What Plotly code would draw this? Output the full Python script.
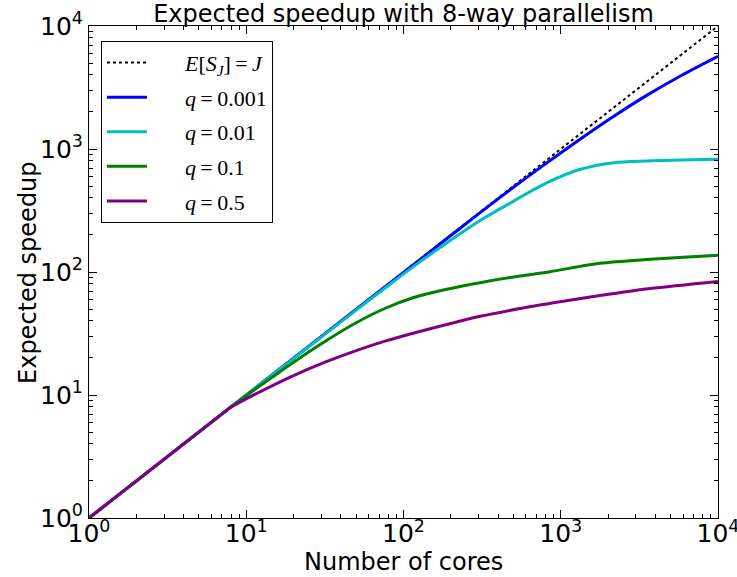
import plotly.graph_objects as go

# data (log-log); all curves follow y = x up to 8 cores
ideal_x = [1, 10000]
ideal_y = [1, 10000]

x_q0001 = [1, 8, 100, 200, 300, 500, 800, 1300, 2200, 3500, 5800, 10000]
y_q0001 = [1, 8, 99, 198, 297, 488, 758, 1180, 1864, 2716, 3945, 5680]

x_q001 = [1, 8, 20, 50, 76, 115, 188, 307, 453, 819, 1334, 2175, 3550, 10000]
y_q001 = [1, 8, 19.8, 49, 73.7, 110, 172, 262, 350, 532, 684, 774, 799, 824]

x_q01 = [1, 8, 12, 20, 32, 50, 76, 115, 188, 307, 550, 855, 1776, 3695, 10000]
y_q01 = [1, 8, 11.67, 18.5, 27.5, 38.7, 50.5, 61.7, 72.3, 81.9, 92.8, 100.6, 117.7, 126.8, 137]

x_q05 = [1, 8, 12, 19.5, 31.7, 51.6, 76.3, 115, 188, 307, 550, 990, 1776, 3695, 10000]
y_q05 = [1, 8, 10.5, 14.2, 18.5, 23.3, 27.4, 31.8, 37.4, 43.6, 50.4, 57.2, 64.3, 73.4, 83.9]

labels = ["<i>q</i>\u2009=\u20090.001", "<i>q</i>\u2009=\u20090.01",
          "<i>q</i>\u2009=\u20090.1", "<i>q</i>\u2009=\u20090.5"]
ideal_label = "<i>E</i>[<i>S<sub>J</sub></i>]\u2009=\u2009<i>J</i>"
colors = ["#0000ff", "#00bfbf", "#008000", "#800080"]
tick_vals = [1, 10, 100, 1000, 10000]
tick_text = ["10<sup>0</sup>", "10<sup>1</sup>", "10<sup>2</sup>", "10<sup>3</sup>", "10<sup>4</sup>"]

GAP = "\u2003\u2002"

fig = go.Figure()
fig.add_trace(go.Scatter(x=ideal_x, y=ideal_y, mode="lines", legendgroup="ideal",
                         line=dict(color="black", width=2, dash="dot"),
                         name=GAP + ideal_label + "\u2006"))
series = [(x_q0001, y_q0001), (x_q001, y_q001), (x_q01, y_q01), (x_q05, y_q05)]
for (xs, ys), lab, col in zip(series, labels, colors):
    # straight part up to the kink at 8 cores
    fig.add_trace(go.Scatter(x=xs[:2], y=ys[:2], mode="lines", legendgroup=lab,
                             showlegend=False, hoverinfo="skip",
                             line=dict(color=col, width=3)))
    fig.add_trace(go.Scatter(x=xs[1:], y=ys[1:], mode="lines", name=GAP + lab,
                             legendgroup=lab,
                             line=dict(color=col, width=3, shape="spline", smoothing=0.8)))

minor_vals = [m * 10 ** k for k in range(4) for m in range(2, 10)]

axis_common = dict(type="log", showgrid=False, zeroline=False, showline=True,
                   linecolor="black", linewidth=1, mirror="allticks",
                   ticks="inside", ticklen=8, tickcolor="black",
                   tickmode="array", tickvals=tick_vals, ticktext=tick_text,
                   tickfont=dict(size=25, color="black"), ticklabeloverflow="allow",
                   automargin=False,
                   minor=dict(ticks="inside", ticklen=4, tickcolor="black", showgrid=False,
                              tickmode="array", tickvals=minor_vals))

fig.update_layout(
    width=737, height=577,
    margin=dict(l=89, r=19, t=26, b=59, autoexpand=False),
    paper_bgcolor="white", plot_bgcolor="white",
    font=dict(family="DejaVu Sans", color="black"),
    title=dict(text="Expected speedup with 8-way parallelism", x=0.5, xanchor="center",
               xref="paper", y=0.976, yanchor="middle", font=dict(size=24)),
    xaxis=dict(range=[0, 4], ticklabelstandoff=-7, **axis_common),
    yaxis=dict(range=[0, 4], **axis_common),
    annotations=[
        dict(text="Number of cores", xref="paper", yref="paper", x=0.5, y=-0.0894,
             xanchor="center", yanchor="middle", showarrow=False, font=dict(size=24)),
        dict(text="Expected speedup", xref="paper", yref="paper", x=-0.097, y=0.5,
             xanchor="center", yanchor="middle", textangle=-90, showarrow=False,
             font=dict(size=24)),
    ],
    legend=dict(x=0.019, y=0.97, xanchor="left", yanchor="top",
                bgcolor="white", bordercolor="black", borderwidth=1,
                font=dict(family="Liberation Serif", size=22),
                itemwidth=40, tracegroupgap=3, traceorder="grouped"),
    showlegend=True,
)

fig.write_html("out.html", config={"displayModeBar": False},
               post_script="document.body.style.margin='0';")
